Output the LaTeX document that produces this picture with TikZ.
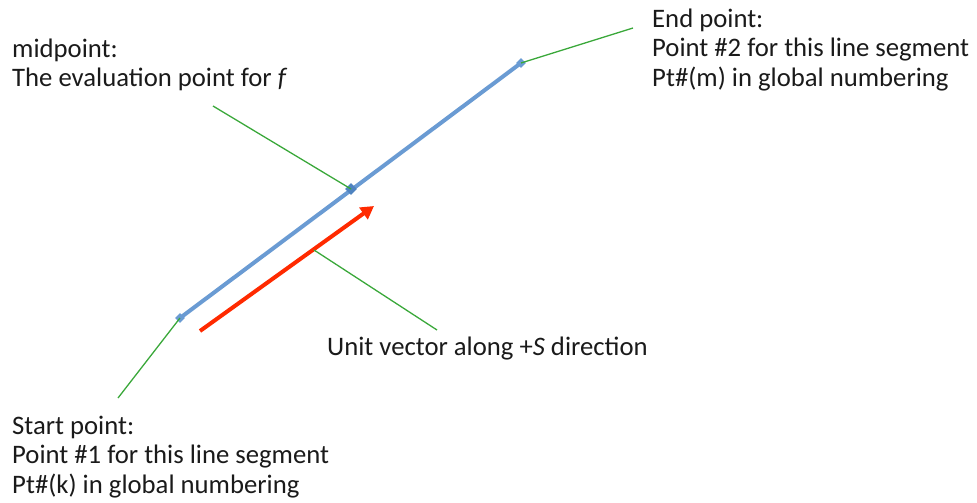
\documentclass[tikz,border=0pt]{standalone}
\usepackage{fontspec}
\setmainfont{Carlito}
\usetikzlibrary{shapes.geometric,arrows.meta}
\definecolor{segblue}{HTML}{6A9BD3}
\definecolor{midblue}{HTML}{4F83C0}
\definecolor{leadgreen}{HTML}{3AA83A}
\definecolor{vecred}{HTML}{FF2A00}
\definecolor{txt}{HTML}{1A1A1A}
\newcommand{\firstline}{\rule{0pt}{22pt}}
\tikzset{
  lbl/.style={anchor=north west, inner sep=0pt, align=left, text=txt, font=\fontsize{26.7}{29.7}\selectfont},
  marker/.style={diamond, fill=segblue, draw=none, inner sep=0pt, minimum size=10pt},
  leader/.style={draw=leadgreen, line width=1.3pt},
  seg/.style={draw=segblue, line width=4pt},
  vec/.style={draw=vecred, line width=4pt, -{Triangle[length=13pt,width=14pt]}}
}
\begin{document}
\begin{tikzpicture}[x=1pt,y=-1pt]
\useasboundingbox (0,0) rectangle (977,503);
% points
\coordinate (P1) at (180,318);
\coordinate (P2) at (521,63);
\coordinate (M) at (351,189);
\coordinate (V1) at (200,331);
\coordinate (V2) at (374,206);
\coordinate (VL) at (314,250);
% labels (first-line baseline minus 22)
\node[lbl] (endlbl) at (652,5) {\firstline End point:\\Point \#2 for this line segment\\Pt\#(m) in global numbering};
\node[lbl] (midlbl) at (12,35) {\firstline midpoint:\\The evaluation point for \textit{f}};
\node[lbl] (veclbl) at (327,333) {\firstline Unit vector along +\textit{S} direction};
\node[lbl] (startlbl) at (12,412) {\firstline Start point:\\Point \#1 for this line segment\\Pt\#(k) in global numbering};
% leader ends
\coordinate (endL) at (633,28);
\coordinate (midL) at (213,106);
\coordinate (vecL) at (437,330);
\coordinate (startL) at (118,398);
% segment
\draw[seg] (P1) -- (P2);
\node[marker] (m1) at (P1) {};
\node[marker] (m2) at (P2) {};
\node[marker, fill=midblue, minimum size=12pt] (mm) at (M) {};
% vector
\draw[vec] (V1) -- (V2);
% leaders
\draw[leader] (m2.center) -- (endL);
\draw[leader] (midL) -- (mm.center);
\draw[leader] (VL) -- (vecL);
\draw[leader] (m1.center) -- (startL);
\end{tikzpicture}
\end{document}
